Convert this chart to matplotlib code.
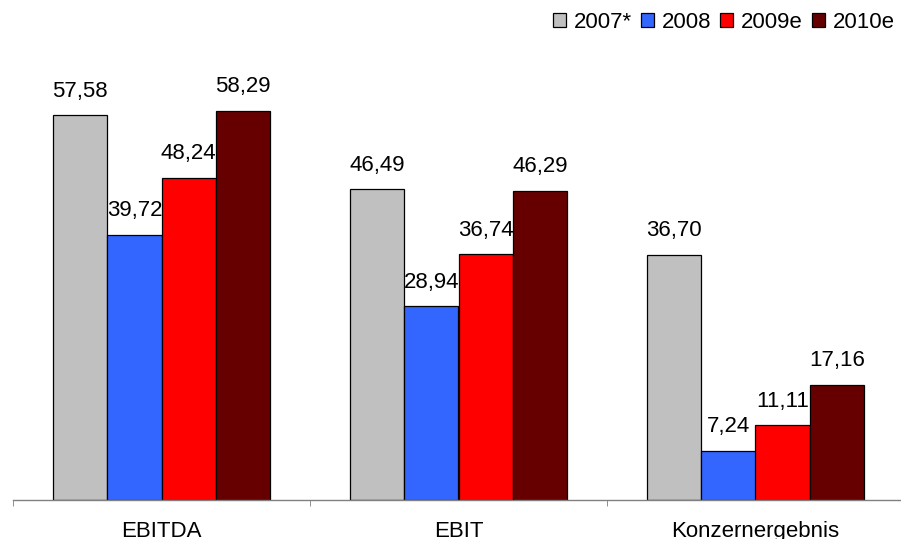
import numpy as np
import matplotlib.pyplot as plt
from matplotlib.patches import Patch

plt.rcParams['font.family'] = ['Liberation Sans', 'DejaVu Sans']

kategorien = ["EBITDA", "EBIT", "Konzernergebnis"]
jahre = ["2007*", "2008", "2009e", "2010e"]
werte = {
    "2007*": [57.58, 46.49, 36.70],
    "2008": [39.72, 28.94, 7.24],
    "2009e": [48.24, 36.74, 11.11],
    "2010e": [58.29, 46.29, 17.16],
}
farben = ["#C0C0C0", "#3366FF", "#FF0000", "#660000"]

fig = plt.figure(figsize=(9.01, 5.39), dpi=100)
ax = fig.add_axes([13/901, (539-499.5)/539, 891/901, 467/539])

x = np.arange(len(kategorien))
breite = 0.1827
for i, jahr in enumerate(jahre):
    pos = x + (i - 1.5)*breite
    bars = ax.bar(pos, werte[jahr], breite, color=farben[i],
                  edgecolor="black", linewidth=0.9)
    for b, v in zip(bars, werte[jahr]):
        ax.annotate(f"{v:.2f}".replace(".", ","),
                    (b.get_x() + b.get_width()/2, v),
                    xytext=(0, 13.5), textcoords="offset points",
                    ha="center", va="baseline", fontsize=16)

ax.set_xlim(-0.5, 2.5)
ax.set_ylim(0, 70)
ax.set_yticks([])
for s in ["left", "right", "top"]:
    ax.spines[s].set_visible(False)
ax.spines["bottom"].set_color("#808080")
ax.spines["bottom"].set_linewidth(1.0)

ax.set_xticks(x)
ax.set_xticklabels(kategorien, fontsize=16)
ax.set_xticks([-0.5, 0.5, 1.5, 2.5], minor=True)
ax.tick_params(axis="x", which="major", length=0, pad=15.5)
ax.tick_params(axis="x", which="minor", length=4.5, color="#808080",
               direction="out")

handles = [Patch(facecolor=c, edgecolor="black", linewidth=0.9) for c in farben]
fig.legend(handles, jahre, loc="center right",
           bbox_to_anchor=(895/901, 1 - 22/539), ncol=4, frameon=False,
           fontsize=16, handlelength=0.6, handleheight=0.6,
           handletextpad=0.35, columnspacing=0.4, borderpad=0,
           borderaxespad=0)

fig.savefig("out.png", dpi=100)
